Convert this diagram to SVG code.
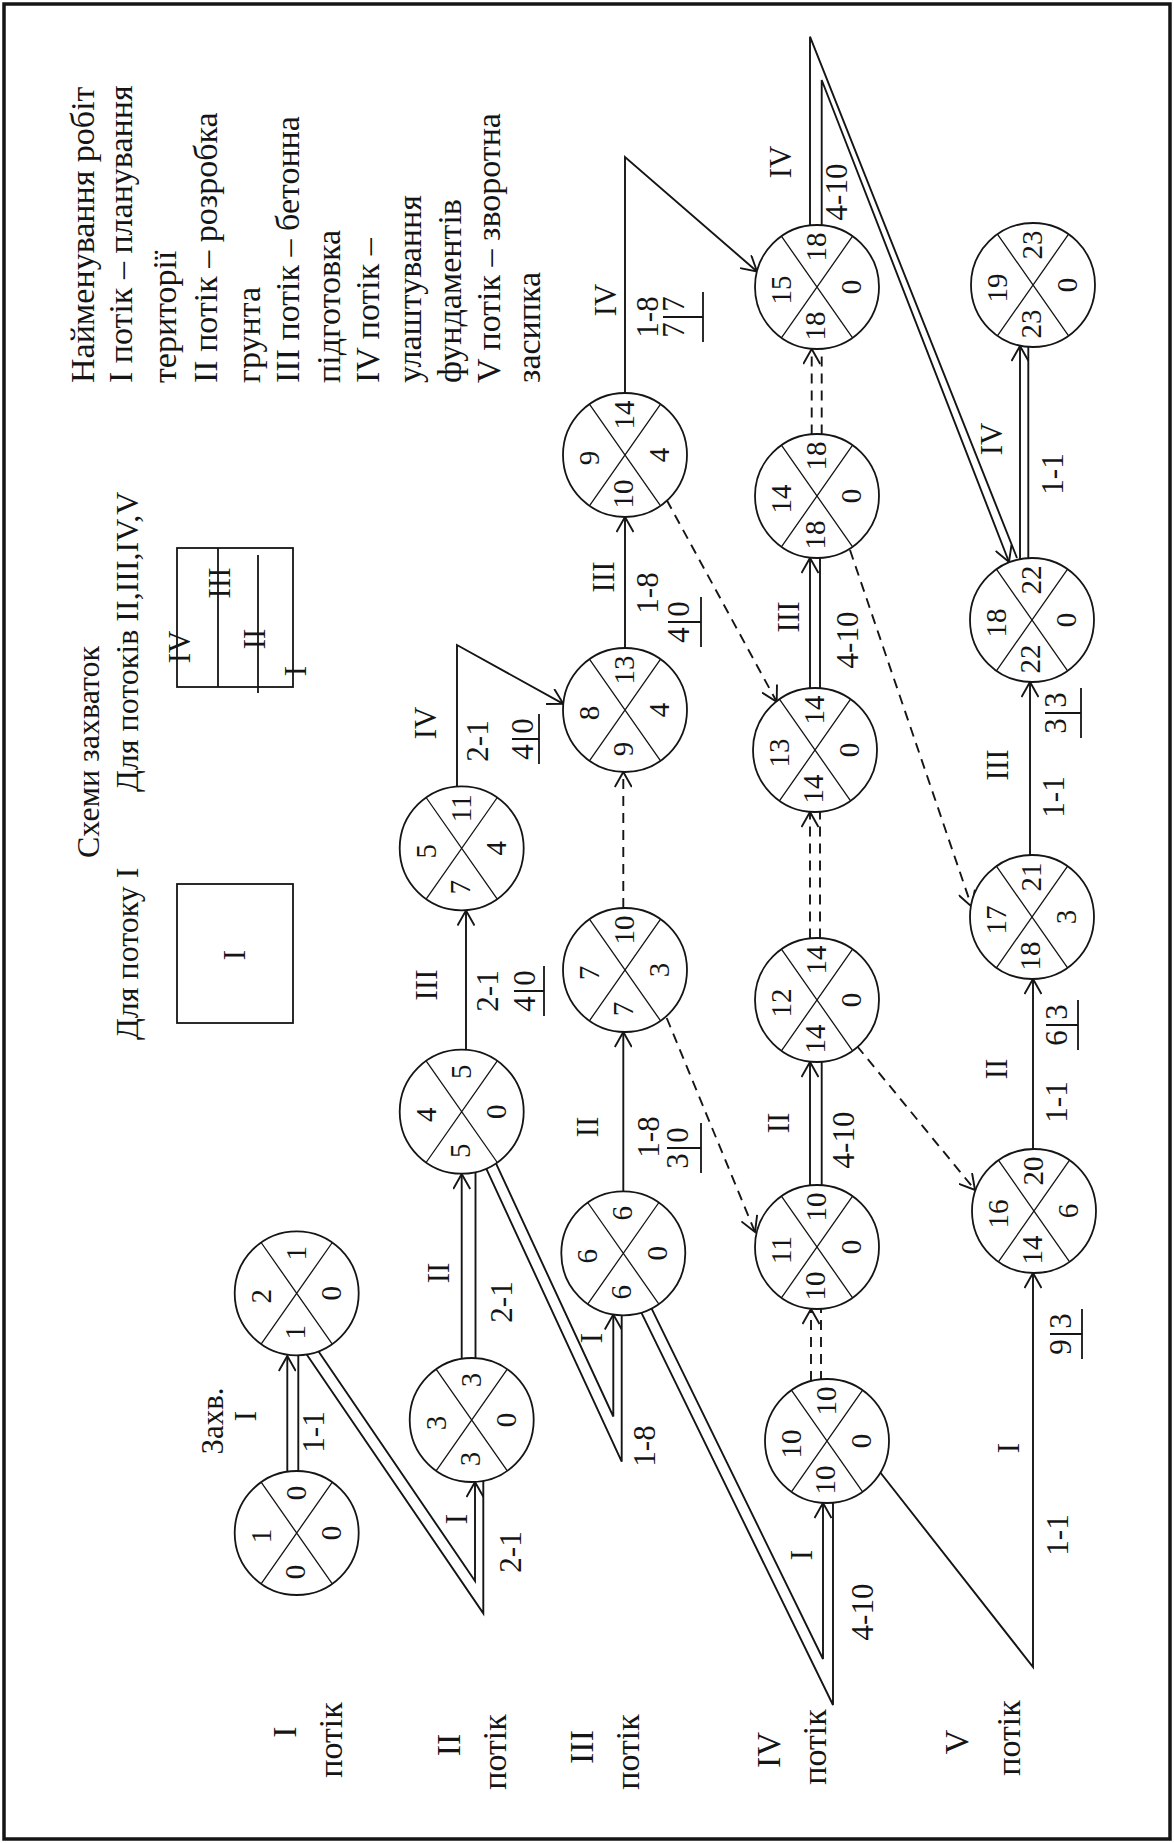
<svg xmlns="http://www.w3.org/2000/svg" width="1174" height="1843" viewBox="0 0 1174 1843" font-family="'Liberation Serif', 'DejaVu Serif', serif">
<style>
.ln{stroke:#151515;stroke-width:1.9;fill:none}
.dl{stroke-dasharray:10 7}
.nd circle{fill:#fff;stroke:#151515;stroke-width:1.8}
.nd path{stroke:#151515;stroke-width:1.3;fill:none}
text{font-family:'Liberation Serif','DejaVu Serif',serif;fill:#151515}
.nd text{font-size:29px;text-anchor:middle;dominant-baseline:central}
.el{font-size:31px;text-anchor:middle;dominant-baseline:central}
.rl{font-size:34px;text-anchor:middle;dominant-baseline:central}
.hd{font-size:34px;text-anchor:start;dominant-baseline:central}
.hl{font-size:32px;text-anchor:start;dominant-baseline:central}
.ul{stroke:#151515;stroke-width:1.8;fill:none}
</style>
<defs>
<marker id="ah" viewBox="0 0 18 18" refX="16" refY="9" markerWidth="18" markerHeight="18" markerUnits="userSpaceOnUse" orient="auto">
<path d="M1,0.5 L16,9 L1,17.5" fill="none" stroke="#151515" stroke-width="1.9" stroke-dasharray="none"/>
</marker>
</defs>
<rect x="4" y="4" width="1166" height="1835" fill="#fff" stroke="#151515" stroke-width="3.5"/>

<g id="header">
<text class="hd" transform="translate(82 383) rotate(-90)">Найменування робіт</text>
<text class="hd" transform="translate(120 383) rotate(-90)">I потік – планування</text>
<text class="hd" transform="translate(164 383) rotate(-90)">території</text>
<text class="hd" transform="translate(205 383) rotate(-90)">II потік – розробка</text>
<text class="hd" transform="translate(248 383) rotate(-90)">грунта</text>
<text class="hd" transform="translate(287 383) rotate(-90)">III потік – бетонна</text>
<text class="hd" transform="translate(328 383) rotate(-90)">підготовка</text>
<text class="hd" transform="translate(367 383) rotate(-90)">IV потік –</text>
<text class="hd" transform="translate(409 383) rotate(-90)">улаштування</text>
<text class="hd" transform="translate(449 383) rotate(-90)">фундаментів</text>
<text class="hd" transform="translate(488 383) rotate(-90)">V потік – зворотна</text>
<text class="hd" transform="translate(528 383) rotate(-90)">засипка</text>
<text class="hl" transform="translate(88 858) rotate(-90)">Схеми захваток</text>
<text class="hl" transform="translate(127 1040) rotate(-90)">Для потоку I</text>
<text class="hl" transform="translate(127 792) rotate(-90)">Для потоків II,III,IV,V</text>
</g>

<g id="legend">
<rect x="177" y="884" width="116" height="139" class="ul"/>
<text class="el" transform="translate(234 955) rotate(-90)">I</text>
<rect x="177" y="548" width="116" height="139" class="ul"/>
<path class="ul" d="M218,548 V687 M258,555 V693"/>
<text class="el" transform="translate(179 647) rotate(-90)">IV</text>
<text class="el" transform="translate(219 583) rotate(-90)">III</text>
<text class="el" transform="translate(254 639) rotate(-90)">II</text>
<text class="el" transform="translate(295 671) rotate(-90)">I</text>
</g>

<g id="connectors" class="ln">
<path d="M287.3,1480 V1356" marker-end="url(#ah)"/>
<path d="M298.3,1480 V1356"/>
<path d="M305,1352 L483.3,1613.3 V1478"/>
<path d="M314.5,1345.5 L475,1581 V1482" marker-end="url(#ah)"/>
<path d="M461.7,1365 V1174" marker-end="url(#ah)"/>
<path d="M475.5,1365 V1170"/>
<path d="M479.7,1154.4 L621.7,1461.7 V1310"/>
<path d="M489.7,1149.8 L613.3,1416.5 V1314.5" marker-end="url(#ah)"/>
<path d="M466,1056 V910.5" marker-end="url(#ah)"/>
<path d="M457,790 V645 L563.3,703.8" marker-end="url(#ah)"/>
<path class="dl" d="M623.3,908 V772" marker-end="url(#ah)"/>
<path d="M625,648 V517" marker-end="url(#ah)"/>
<path d="M623.3,1191.3 V1032" marker-end="url(#ah)"/>
<path d="M637.7,1305.2 L833,1705 V1500"/>
<path d="M647.6,1300.4 L823,1659 V1503" marker-end="url(#ah)"/>
<path class="dl" d="M666.7,1018 L755,1232" marker-end="url(#ah)"/>
<path class="dl" d="M666.7,500 L776.7,701.7" marker-end="url(#ah)"/>
<path class="dl" d="M811,1381 V1309" marker-end="url(#ah)"/>
<path class="dl" d="M821,1381 V1309"/>
<path d="M810,1190 V1062" marker-end="url(#ah)"/>
<path d="M821.7,1190 V1062"/>
<path class="dl" d="M810,938.4 V812" marker-end="url(#ah)"/>
<path class="dl" d="M820,938.4 V812"/>
<path d="M810,695 V558" marker-end="url(#ah)"/>
<path d="M820,695 V558"/>
<path class="dl" d="M811.7,434.4 V349" marker-end="url(#ah)"/>
<path class="dl" d="M821.7,434.4 V349"/>
<path d="M810,235 V36.7 L1017,558"/>
<path d="M821.7,235 V80 L1009,562" marker-end="url(#ah)"/>
<path d="M876,1467 L1033,1667 V1273" marker-end="url(#ah)"/>
<path d="M1033,1149 V979" marker-end="url(#ah)"/>
<path d="M1030,855 V682" marker-end="url(#ah)"/>
<path d="M1020,560 V346" marker-end="url(#ah)"/>
<path d="M1028.3,560 V346"/>
<path d="M625,393 V157 L757,271.5" marker-end="url(#ah)"/>
<path class="dl" d="M857,1046 L975,1190" marker-end="url(#ah)"/>
<path class="dl" d="M850,550 L971.7,906.7" marker-end="url(#ah)"/>
</g>

<g id="n1" class="nd" transform="translate(296.7 1533) rotate(-90)"><circle r="62"/><path d="M-50.8,35.6 L50.8,-35.6 M50.8,35.6 L-50.8,-35.6"/><text x="-3" y="-36">1</text><text x="40" y="-1">0</text><text x="-39" y="-2">0</text><text x="0" y="34">0</text></g>
<g id="n2" class="nd" transform="translate(296.7 1293.3) rotate(-90)"><circle r="62"/><path d="M-50.8,35.6 L50.8,-35.6 M50.8,35.6 L-50.8,-35.6"/><text x="-3" y="-36">2</text><text x="40" y="-1">1</text><text x="-39" y="-2">1</text><text x="0" y="34">0</text></g>
<g id="n3" class="nd" transform="translate(471.7 1420) rotate(-90)"><circle r="62"/><path d="M-50.8,35.6 L50.8,-35.6 M50.8,35.6 L-50.8,-35.6"/><text x="-3" y="-36">3</text><text x="40" y="-1">3</text><text x="-39" y="-2">3</text><text x="0" y="34">0</text></g>
<g id="n4" class="nd" transform="translate(461.7 1111.7) rotate(-90)"><circle r="62"/><path d="M-50.8,35.6 L50.8,-35.6 M50.8,35.6 L-50.8,-35.6"/><text x="-3" y="-36">4</text><text x="40" y="-1">5</text><text x="-39" y="-2">5</text><text x="0" y="34">0</text></g>
<g id="n5" class="nd" transform="translate(461.7 848.3) rotate(-90)"><circle r="62"/><path d="M-50.8,35.6 L50.8,-35.6 M50.8,35.6 L-50.8,-35.6"/><text x="-3" y="-36">5</text><text x="40" y="-1">11</text><text x="-39" y="-2">7</text><text x="0" y="34">4</text></g>
<g id="n6" class="nd" transform="translate(623.3 1253.3) rotate(-90)"><circle r="62"/><path d="M-50.8,35.6 L50.8,-35.6 M50.8,35.6 L-50.8,-35.6"/><text x="-3" y="-36">6</text><text x="40" y="-1">6</text><text x="-39" y="-2">6</text><text x="0" y="34">0</text></g>
<g id="n7" class="nd" transform="translate(625 970) rotate(-90)"><circle r="62"/><path d="M-50.8,35.6 L50.8,-35.6 M50.8,35.6 L-50.8,-35.6"/><text x="-3" y="-36">7</text><text x="40" y="-1">10</text><text x="-39" y="-2">7</text><text x="0" y="34">3</text></g>
<g id="n8" class="nd" transform="translate(625 710) rotate(-90)"><circle r="62"/><path d="M-50.8,35.6 L50.8,-35.6 M50.8,35.6 L-50.8,-35.6"/><text x="-3" y="-36">8</text><text x="40" y="-1">13</text><text x="-39" y="-2">9</text><text x="0" y="34">4</text></g>
<g id="n9" class="nd" transform="translate(625 455) rotate(-90)"><circle r="62"/><path d="M-50.8,35.6 L50.8,-35.6 M50.8,35.6 L-50.8,-35.6"/><text x="-3" y="-36">9</text><text x="40" y="-1">14</text><text x="-39" y="-2">10</text><text x="0" y="34">4</text></g>
<g id="n10" class="nd" transform="translate(827 1441) rotate(-90)"><circle r="62"/><path d="M-50.8,35.6 L50.8,-35.6 M50.8,35.6 L-50.8,-35.6"/><text x="-3" y="-36">10</text><text x="40" y="-1">10</text><text x="-39" y="-2">10</text><text x="0" y="34">0</text></g>
<g id="n11" class="nd" transform="translate(817 1247) rotate(-90)"><circle r="62"/><path d="M-50.8,35.6 L50.8,-35.6 M50.8,35.6 L-50.8,-35.6"/><text x="-3" y="-36">11</text><text x="40" y="-1">10</text><text x="-39" y="-2">10</text><text x="0" y="34">0</text></g>
<g id="n12" class="nd" transform="translate(817 1000) rotate(-90)"><circle r="62"/><path d="M-50.8,35.6 L50.8,-35.6 M50.8,35.6 L-50.8,-35.6"/><text x="-3" y="-36">12</text><text x="40" y="-1">14</text><text x="-39" y="-2">14</text><text x="0" y="34">0</text></g>
<g id="n13" class="nd" transform="translate(815 750) rotate(-90)"><circle r="62"/><path d="M-50.8,35.6 L50.8,-35.6 M50.8,35.6 L-50.8,-35.6"/><text x="-3" y="-36">13</text><text x="40" y="-1">14</text><text x="-39" y="-2">14</text><text x="0" y="34">0</text></g>
<g id="n14" class="nd" transform="translate(817 496) rotate(-90)"><circle r="62"/><path d="M-50.8,35.6 L50.8,-35.6 M50.8,35.6 L-50.8,-35.6"/><text x="-3" y="-36">14</text><text x="40" y="-1">18</text><text x="-39" y="-2">18</text><text x="0" y="34">0</text></g>
<g id="n15" class="nd" transform="translate(817 287) rotate(-90)"><circle r="62"/><path d="M-50.8,35.6 L50.8,-35.6 M50.8,35.6 L-50.8,-35.6"/><text x="-3" y="-36">15</text><text x="40" y="-1">18</text><text x="-39" y="-2">18</text><text x="0" y="34">0</text></g>
<g id="n16" class="nd" transform="translate(1034 1211) rotate(-90)"><circle r="62"/><path d="M-50.8,35.6 L50.8,-35.6 M50.8,35.6 L-50.8,-35.6"/><text x="-3" y="-36">16</text><text x="40" y="-1">20</text><text x="-39" y="-2">14</text><text x="0" y="34">6</text></g>
<g id="n17" class="nd" transform="translate(1032 917) rotate(-90)"><circle r="62"/><path d="M-50.8,35.6 L50.8,-35.6 M50.8,35.6 L-50.8,-35.6"/><text x="-3" y="-36">17</text><text x="40" y="-1">21</text><text x="-39" y="-2">18</text><text x="0" y="34">3</text></g>
<g id="n18" class="nd" transform="translate(1032 620) rotate(-90)"><circle r="62"/><path d="M-50.8,35.6 L50.8,-35.6 M50.8,35.6 L-50.8,-35.6"/><text x="-3" y="-36">18</text><text x="40" y="-1">22</text><text x="-39" y="-2">22</text><text x="0" y="34">0</text></g>
<g id="n19" class="nd" transform="translate(1033 285) rotate(-90)"><circle r="62"/><path d="M-50.8,35.6 L50.8,-35.6 M50.8,35.6 L-50.8,-35.6"/><text x="-3" y="-36">19</text><text x="40" y="-1">23</text><text x="-39" y="-2">23</text><text x="0" y="34">0</text></g>

<g id="labels">
<text class="el" transform="translate(212 1421) rotate(-90)">Захв.</text>
<text class="el" transform="translate(245 1416) rotate(-90)">I</text>
<text class="el" transform="translate(313 1432) rotate(-90)">1-1</text>
<text class="el" transform="translate(456 1519) rotate(-90)">I</text>
<text class="el" transform="translate(510 1552) rotate(-90)">2-1</text>
<text class="el" transform="translate(438 1273) rotate(-90)">II</text>
<text class="el" transform="translate(501 1302) rotate(-90)">2-1</text>
<text class="el" transform="translate(591 1338) rotate(-90)">I</text>
<text class="el" transform="translate(644 1446) rotate(-90)">1-8</text>
<text class="el" transform="translate(426 985) rotate(-90)">III</text>
<text class="el" transform="translate(487 991) rotate(-90)">2-1</text>
<text class="el" transform="translate(524 1004) rotate(-90)">4</text><text class="el" transform="translate(524 978) rotate(-90)">0</text>
<path class="ul" d="M514,991 H544 M544,966 V1016"/>
<text class="el" transform="translate(425 723) rotate(-90)">IV</text>
<text class="el" transform="translate(477 741) rotate(-90)">2-1</text>
<text class="el" transform="translate(522 752) rotate(-90)">4</text><text class="el" transform="translate(522 726) rotate(-90)">0</text>
<path class="ul" d="M512,739 H539 M539,714 V764"/>
<text class="el" transform="translate(603 577) rotate(-90)">III</text>
<text class="el" transform="translate(647 593) rotate(-90)">1-8</text>
<text class="el" transform="translate(678 635) rotate(-90)">4</text><text class="el" transform="translate(678 609) rotate(-90)">0</text>
<path class="ul" d="M668,622 H701 M701,597 V647"/>
<text class="el" transform="translate(587 1127) rotate(-90)">II</text>
<text class="el" transform="translate(648 1137) rotate(-90)">1-8</text>
<text class="el" transform="translate(677 1161) rotate(-90)">3</text><text class="el" transform="translate(677 1135) rotate(-90)">0</text>
<path class="ul" d="M667,1148 H701 M701,1123 V1173"/>
<text class="el" transform="translate(605 300) rotate(-90)">IV</text>
<text class="el" transform="translate(647 317) rotate(-90)">1-8</text>
<text class="el" transform="translate(673 330) rotate(-90)">7</text><text class="el" transform="translate(673 304) rotate(-90)">7</text>
<path class="ul" d="M663,317 H703 M703,292 V342"/>
<text class="el" transform="translate(801 1555) rotate(-90)">I</text>
<text class="el" transform="translate(862 1612) rotate(-90)">4-10</text>
<text class="el" transform="translate(778 1123) rotate(-90)">II</text>
<text class="el" transform="translate(843 1140) rotate(-90)">4-10</text>
<text class="el" transform="translate(788 617) rotate(-90)">III</text>
<text class="el" transform="translate(847 640) rotate(-90)">4-10</text>
<text class="el" transform="translate(780 162) rotate(-90)">IV</text>
<text class="el" transform="translate(836 192) rotate(-90)">4-10</text>
<text class="el" transform="translate(1008 1448) rotate(-90)">I</text>
<text class="el" transform="translate(1057 1535) rotate(-90)">1-1</text>
<text class="el" transform="translate(1060 1347) rotate(-90)">9</text><text class="el" transform="translate(1060 1321) rotate(-90)">3</text>
<path class="ul" d="M1050,1334 H1082 M1082,1309 V1359"/>
<text class="el" transform="translate(996 1069) rotate(-90)">II</text>
<text class="el" transform="translate(1056 1102) rotate(-90)">1-1</text>
<text class="el" transform="translate(1056 1038) rotate(-90)">6</text><text class="el" transform="translate(1056 1012) rotate(-90)">3</text>
<path class="ul" d="M1046,1025 H1078 M1078,1000 V1050"/>
<text class="el" transform="translate(997 765) rotate(-90)">III</text>
<text class="el" transform="translate(1053 797) rotate(-90)">1-1</text>
<text class="el" transform="translate(1055 726) rotate(-90)">3</text><text class="el" transform="translate(1055 700) rotate(-90)">3</text>
<path class="ul" d="M1045,713 H1081 M1081,688 V738"/>
<text class="el" transform="translate(991 439) rotate(-90)">IV</text>
<text class="el" transform="translate(1052 474) rotate(-90)">1-1</text>
</g>

<g id="rows">
<text class="rl" transform="translate(284 1732) rotate(-90)">I</text>
<text class="rl" transform="translate(330 1740) rotate(-90)">потік</text>
<text class="rl" transform="translate(448 1745) rotate(-90)">II</text>
<text class="rl" transform="translate(494 1752) rotate(-90)">потік</text>
<text class="rl" transform="translate(581 1747) rotate(-90)">III</text>
<text class="rl" transform="translate(627 1752) rotate(-90)">потік</text>
<text class="rl" transform="translate(768 1750) rotate(-90)">IV</text>
<text class="rl" transform="translate(814 1747) rotate(-90)">потік</text>
<text class="rl" transform="translate(956 1742) rotate(-90)">V</text>
<text class="rl" transform="translate(1008 1738) rotate(-90)">потік</text>
</g>
</svg>
